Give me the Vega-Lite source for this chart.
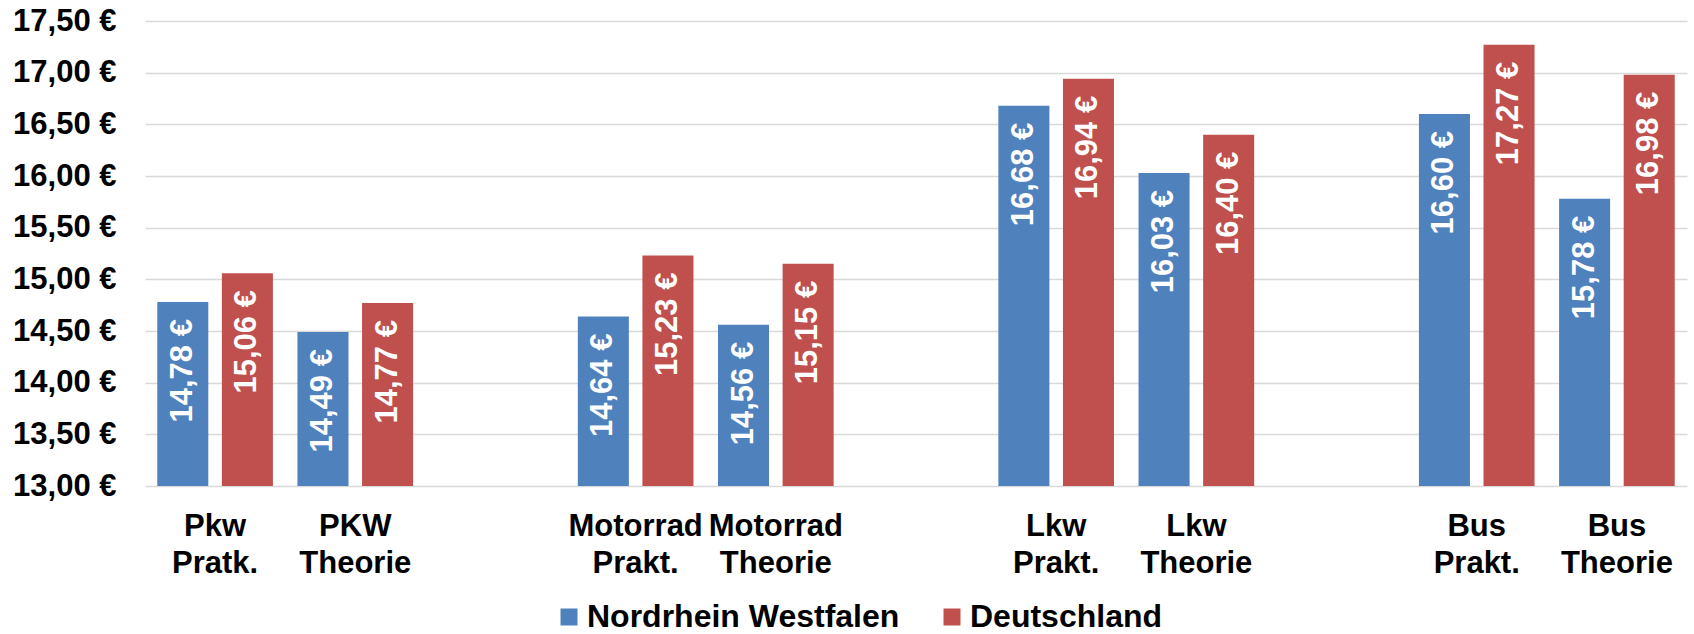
{
  "$schema": "https://vega.github.io/schema/vega-lite/v6.json",
  "width": 1542,
  "height": 465,
  "autosize": {"type": "none"},
  "padding": {"left": 145, "top": 21, "right": 7, "bottom": 148},
  "background": "white",
  "config": {"view": {"stroke": null}, "font": "Liberation Sans"},
  "data": {
    "values": [
      {"cat": "Pkw|Pratk.", "series": "Nordrhein Westfalen", "value": 14.78},
      {"cat": "Pkw|Pratk.", "series": "Deutschland", "value": 15.06},
      {"cat": "PKW|Theorie", "series": "Nordrhein Westfalen", "value": 14.49},
      {"cat": "PKW|Theorie", "series": "Deutschland", "value": 14.77},
      {"cat": "Motorrad|Prakt.", "series": "Nordrhein Westfalen", "value": 14.64},
      {"cat": "Motorrad|Prakt.", "series": "Deutschland", "value": 15.23},
      {"cat": "Motorrad|Theorie", "series": "Nordrhein Westfalen", "value": 14.56},
      {"cat": "Motorrad|Theorie", "series": "Deutschland", "value": 15.15},
      {"cat": "Lkw|Prakt.", "series": "Nordrhein Westfalen", "value": 16.68},
      {"cat": "Lkw|Prakt.", "series": "Deutschland", "value": 16.94},
      {"cat": "Lkw|Theorie", "series": "Nordrhein Westfalen", "value": 16.03},
      {"cat": "Lkw|Theorie", "series": "Deutschland", "value": 16.40},
      {"cat": "Bus|Prakt.", "series": "Nordrhein Westfalen", "value": 16.60},
      {"cat": "Bus|Prakt.", "series": "Deutschland", "value": 17.27},
      {"cat": "Bus|Theorie", "series": "Nordrhein Westfalen", "value": 15.78},
      {"cat": "Bus|Theorie", "series": "Deutschland", "value": 16.98}
    ]
  },
  "transform": [
    {"calculate": "replace(format(datum.value, '.2f'), '.', ',') + ' €'", "as": "label"}
  ],
  "encoding": {
    "x": {
      "field": "cat",
      "type": "nominal",
      "sort": null,
      "scale": {
        "domain": ["Pkw|Pratk.", "PKW|Theorie", "g1", "Motorrad|Prakt.", "Motorrad|Theorie", "g2", "Lkw|Prakt.", "Lkw|Theorie", "g3", "Bus|Prakt.", "Bus|Theorie"],
        "paddingInner": 0,
        "paddingOuter": 0
      },
      "axis": {
        "title": null,
        "labelAngle": 0,
        "labelExpr": "indexof(datum.label, '|') < 0 ? '' : split(datum.label, '|')",
        "labelFont": "Liberation Sans",
        "labelFontSize": 31,
        "labelFontWeight": "bold",
        "labelColor": "black",
        "labelLineHeight": 37,
        "labelPadding": 25,
        "labelBaseline": "top",
        "labelAlign": "center",
        "ticks": false,
        "tickSize": 0,
        "domain": false,
        "grid": false,
        "labelOverlap": false,
        "labelBound": false,
        "labelFlush": false
      }
    },
    "xOffset": {
      "field": "series",
      "type": "nominal",
      "sort": null,
      "scale": {"domain": ["Nordrhein Westfalen", "Deutschland"], "paddingInner": 0.21, "paddingOuter": 0.19}
    },
    "y": {
      "field": "value",
      "type": "quantitative",
      "scale": {"domain": [13, 17.5], "zero": false, "nice": false},
      "axis": {
        "title": null,
        "values": [13, 13.5, 14, 14.5, 15, 15.5, 16, 16.5, 17, 17.5],
        "labelExpr": "replace(format(datum.value, '.2f'), '.', ',') + ' €'",
        "labelFont": "Liberation Sans",
        "labelFontSize": 31,
        "labelFontWeight": "bold",
        "labelColor": "black",
        "labelPadding": 29,
        "ticks": false,
        "tickSize": 0,
        "domain": false,
        "grid": true,
        "gridColor": "#d9d9d9",
        "gridWidth": 1.5,
        "labelOverlap": false,
        "labelFlush": false
      }
    }
  },
  "layer": [
    {
      "mark": {"type": "bar"},
      "encoding": {
        "y2": {"datum": 13},
        "color": {
          "field": "series",
          "type": "nominal",
          "sort": null,
          "scale": {"domain": ["Nordrhein Westfalen", "Deutschland"], "range": ["#4F81BD", "#C0504D"]},
          "legend": {
            "title": null,
            "orient": "none",
            "legendX": 408,
            "legendY": 580,
            "direction": "horizontal",
            "columns": 2,
            "columnPadding": 36,
            "padding": 0,
            "symbolType": "square",
            "symbolSize": 289,
            "symbolStrokeWidth": 0,
            "labelOffset": 2,
            "labelFont": "Liberation Sans",
            "labelFontSize": 32,
            "labelFontWeight": "bold",
            "labelColor": "black",
            "labelLimit": 1000
          }
        }
      }
    },
    {
      "mark": {
        "type": "text",
        "angle": 270,
        "align": "right",
        "baseline": "middle",
        "dx": -17,
        "color": "white",
        "font": "Liberation Sans",
        "fontSize": 31,
        "fontWeight": "bold"
      },
      "encoding": {
        "text": {"field": "label", "type": "nominal"}
      }
    }
  ]
}
